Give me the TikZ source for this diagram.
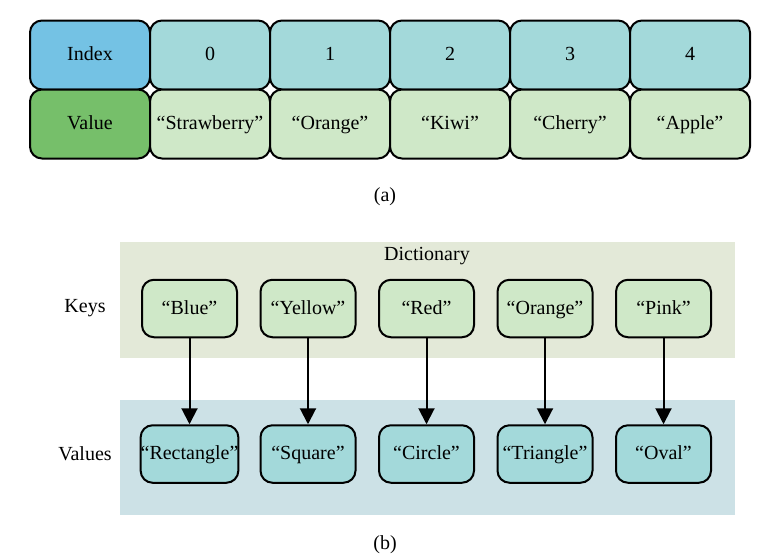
\documentclass[tikz,border=0pt]{standalone}
\usepackage{fontspec}
\setmainfont{Liberation Serif}
\usepackage{xcolor}
\usetikzlibrary{arrows.meta}

\definecolor{idxblue}{HTML}{74C2E4}
\definecolor{idxcell}{HTML}{A3D9DA}
\definecolor{valgreen}{HTML}{76BF6A}
\definecolor{valcell}{HTML}{CFE8C8}
\definecolor{keyback}{HTML}{E3E9D8}
\definecolor{valback}{HTML}{CCE1E6}

\begin{document}
\begin{tikzpicture}[x=0.5pt,y=-0.5pt,
    every node/.style={font=\fontsize{10}{12}\selectfont},
    cell/.style={draw=black, line width=1pt, rounded corners=6pt, inner sep=0pt,
        minimum width=60pt, minimum height=34.5pt, text height=1.6ex, text depth=.35ex},
    dictbox/.style={cell, minimum width=47.5pt, minimum height=28.75pt},
    link/.style={-{Triangle[length=8pt,width=8pt]}, line width=1pt}]
        \useasboundingbox (0,0) rectangle (769,558);
        % (a) list
        \node[cell, fill=idxblue] (idxhead) at (90,55) {Index};
        \node[cell, fill=valgreen] (valhead) at (90,124) {Value};
        \foreach \v [count=\i from 0] in {Strawberry,Orange,Kiwi,Cherry,Apple} {
            \node[cell, fill=idxcell] (idx\i) at (210+120*\i,55) {\i};
            \node[cell, fill=valcell] (val\i) at (210+120*\i,124) {“\v”};
        }
        \node (capa) at (385,197) {(a)};

        % (b) dictionary
        \fill[keyback] (120,242) rectangle (735,358); %keys%
        \fill[valback] (120,400) rectangle (735,515); %values%
        \node (dict) at (427,256) {Dictionary};
        \node (keys) at (85,308) {Keys};
        \node (vals) at (85,454) {Values};
        \foreach \k/\v [count=\i] in {Blue/Rectangle,Yellow/Square,Red/Circle,Orange/Triangle,Pink/Oval} {
            \node[dictbox, fill=valcell] (key\i) at (71+118.5*\i,308.5) {“\k”};
            \node[dictbox, fill=idxcell] (item\i) at (71+118.5*\i,454) {“\v”};
            \draw[link] (key\i) -- (item\i);
        }
        \node (capb) at (385,545) {(b)};
\end{tikzpicture}
\end{document}
